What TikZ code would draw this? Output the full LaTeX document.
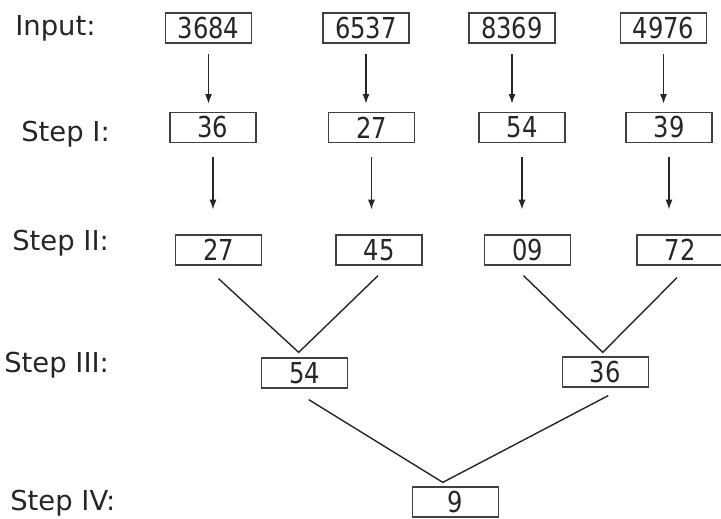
\documentclass[tikz,border=0pt]{standalone}
\usepackage{fontspec}
\setmainfont{DejaVu Sans}
\newfontfamily\numfont{DejaVu Sans}[FakeStretch=0.84]
\usetikzlibrary{positioning,arrows.meta,calc}

\tikzset{
  numbox/.style={draw=black!75, line width=0.9pt, minimum width=2.15cm,
    minimum height=0.75cm, inner sep=0pt,
    font=\numfont\fontsize{20.5}{22}\selectfont, text=black!85},
  steplabel/.style={anchor=base west, inner sep=0pt,
    font=\fontsize{19.5}{22}\selectfont, text=black!85},
  arr/.style={-{Latex[length=7pt,width=5pt]}, line width=1pt, draw=black!85},
  mergeline/.style={line width=1pt, draw=black!85}
}

\begin{document}
\begin{tikzpicture}[x=0.025cm,y=-0.025cm]
  \useasboundingbox (0,0) rectangle (721,518);

  % row labels
  \node[steplabel] (lin) at (15,36) {Input:};
  \node[steplabel] (l1) at (21,141) {Step I:};
  \node[steplabel] (l2) at (12,250) {Step II:};
  \node[steplabel] (l3) at (4,372) {Step III:};
  \node[steplabel] (l4) at (10,510) {Step IV:};

  % input
  \node[numbox] (in1) at (208.5,28) {3684};
  \node[numbox] (in2) at (366,28) {6537};
  \node[numbox] (in3) at (512,28) {8369};
  \node[numbox] (in4) at (663.5,28) {4976};

  % step I
  \node[numbox] (s1) at (213,127.5) {36};
  \node[numbox] (s2) at (371.5,127.5) {27};
  \node[numbox] (s3) at (522,127.5) {54};
  \node[numbox] (s4) at (669,127.5) {39};

  % step II
  \node[numbox] (t1) at (218.5,250) {27};
  \node[numbox] (t2) at (379,250) {45};
  \node[numbox] (t3) at (527.5,250) {09};
  \node[numbox] (t4) at (680,250) {72};

  % step III
  \node[numbox] (u1) at (304.7,373) {54};
  \node[numbox] (u2) at (605.2,372) {36};

  % step IV
  \node[numbox] (v1) at (455.3,502) {9};

  \draw[arr, shorten <=0.25cm, shorten >=0.2cm] (in1.south) -- (in1.south |- s1.north);
  \draw[arr, shorten <=0.25cm, shorten >=0.2cm] (in2.south) -- (in2.south |- s2.north);
  \draw[arr, shorten <=0.25cm, shorten >=0.2cm] (in3.south) -- (in3.south |- s3.north);
  \draw[arr, shorten <=0.25cm, shorten >=0.2cm] (in4.south) -- (in4.south |- s4.north);

  \draw[arr, shorten <=0.35cm, shorten >=0.62cm] (s1.south) -- (s1.south |- t1.north);
  \draw[arr, shorten <=0.35cm, shorten >=0.62cm] (s2.south) -- (s2.south |- t2.north);
  \draw[arr, shorten <=0.35cm, shorten >=0.62cm] (s3.south) -- (s3.south |- t3.north);
  \draw[arr, shorten <=0.35cm, shorten >=0.62cm] (s4.south) -- (s4.south |- t4.north);

  % merging lines
  \coordinate (k1) at ($(u1.north)+(-6,-5)$);
  \coordinate (k2) at ($(u2.north)+(-2.5,-4)$);
  \coordinate (k3) at ($(v1.north)+(-12.5,-4)$);

  \draw[mergeline] ($(t1.south)+(0,13)$) -- (k1) -- ($(t2.south)+(-1,10)$);
  \draw[mergeline] ($(t3.south)+(-4,10)$) -- (k2) -- ($(t4.south)+(-3,12)$);
  \draw[mergeline] ($(u1.south)+(4,11)$) -- (k3) -- ($(u2.south)+(3,8)$);

\end{tikzpicture}
\end{document}
